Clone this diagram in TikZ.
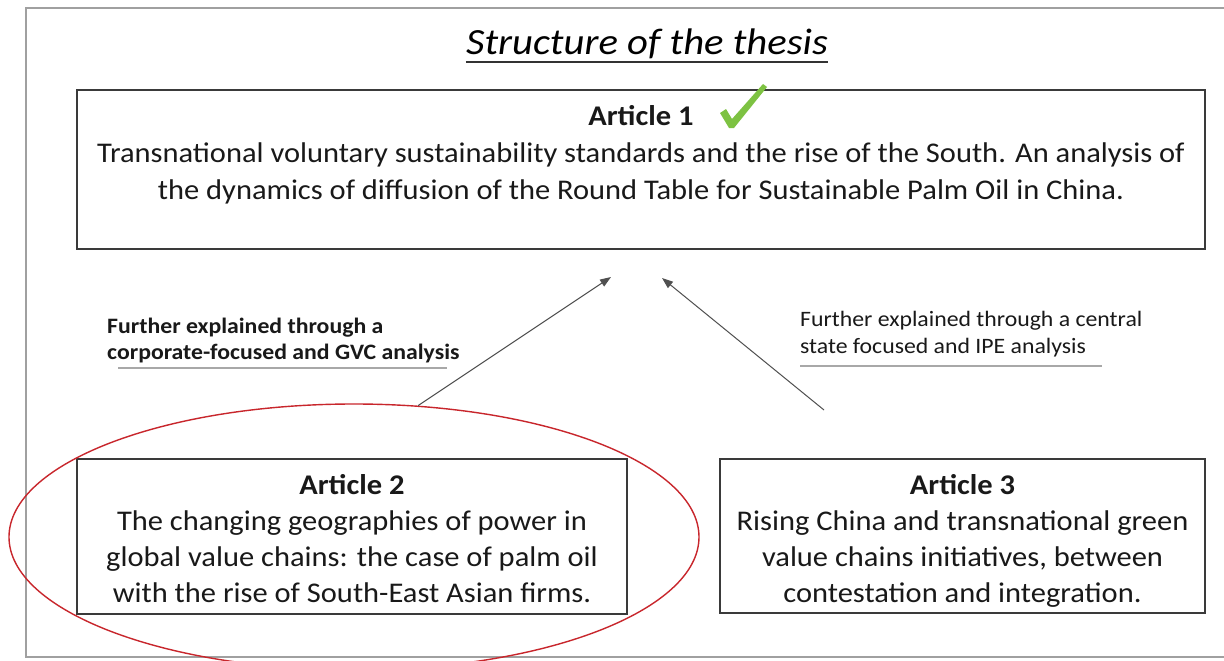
\documentclass[tikz,border=0pt]{standalone}
\usepackage{fontspec}
\setmainfont{Carlito}
\newfontfamily\artfont[FakeStretch=1.07]{Carlito}
\newfontfamily\titlefont[FakeStretch=1.1]{Carlito}
\newfontfamily\lblfont[FakeStretch=1.08]{Carlito}
\usetikzlibrary{arrows.meta,shapes.geometric}
\definecolor{boxline}{HTML}{3A3A3A}
\definecolor{framegray}{HTML}{A0A0A0}
\definecolor{arrowgray}{HTML}{505050}
\definecolor{ulgray}{HTML}{A8A8A8}
\definecolor{ringred}{HTML}{C8262C}
\definecolor{checkgreen}{HTML}{7DC242}
\begin{document}
\begin{tikzpicture}[x=1pt,y=-1pt,
  artbox/.style={draw=boxline, line width=1.5pt, inner sep=0pt, outer sep=0pt},
  arttext/.style={anchor=north, align=center, inner sep=0pt, text=black!90,
    font=\artfont\fontsize{28.5}{36}\selectfont},
  lbl/.style={anchor=north west, align=left, inner sep=0pt, text=black!90},
  conn/.style={draw=arrowgray, line width=1pt, -{Triangle[length=11pt,width=8pt]}},
  ul/.style={draw=ulgray, line width=1.6pt}]
\useasboundingbox (0,0) rectangle (1224,661);
\fill[white] (0,0) rectangle (1224,661);
% outer frame
\draw[framegray, line width=1.5pt] (1224,8) -- (26,8) -- (26,657) -- (1224,657);
% title
\node[inner sep=0pt, anchor=base, font=\titlefont\fontsize{37}{42}\selectfont\itshape] (title) at (647,55) {Structure of the thesis};
\draw[black!80, line width=1.4pt] ([yshift=-7pt]title.base west) -- ([yshift=-7pt]title.base east);
% boxes
\node[artbox, minimum width=1128pt, minimum height=159pt] (a1) at (641,169.5) {};
\node[artbox, minimum width=550pt, minimum height=155pt] (a2) at (352,536.5) {};
\node[artbox, minimum width=485pt, minimum height=154pt] (a3) at (962.5,536) {};
% box texts
\node[arttext, font=\artfont\fontsize{28.5}{36.5}\selectfont] (t1) at (641,105) {\textbf{Article 1}\\[1pt]
Transnational voluntary sustainability standards and the rise of the South. An analysis of\\
the dynamics of diffusion of the Round Table for Sustainable Palm Oil in China.};
\node[arttext] (t2) at (352,474) {\textbf{Article 2}\\
The changing geographies of power in\\
global value chains: the case of palm oil\\
with the rise of South-East Asian firms.};
\node[arttext] (t3) at (962.5,474) {\textbf{Article 3}\\
Rising China and transnational green\\
value chains initiatives, between\\
contestation and integration.};
% check mark
\fill[checkgreen] (720,113) -- (726,109) -- (732,119) -- (763,84) -- (767,87) -- (734,128) -- (729,128) -- cycle;
% red ring around article 2
\node[ellipse, draw=ringred, line width=1.4pt, minimum width=690pt, minimum height=266pt, inner sep=0pt] (ring) at (354,537) {};
% connectors
\coordinate (h2) at (611,277);
\coordinate (h3) at (662,278);
\coordinate (s3) at (824,410);
\draw[conn] (ring.64) -- (h2);
\draw[conn] (s3) -- (h3);
% labels
\node[lbl, font=\lblfont\fontsize{22}{26}\selectfont\bfseries] (l2) at (107,318) {Further explained through a\\corporate-focused and GVC analysis};
\node[lbl, font=\lblfont\fontsize{22}{27}\selectfont] (l3) at (800,311) {Further explained through a central\\state focused and IPE analysis};
\draw[ul] (118,368) -- (447,368);
\draw[ul] (800,366) -- (1102,366);
\end{tikzpicture}
\end{document}
